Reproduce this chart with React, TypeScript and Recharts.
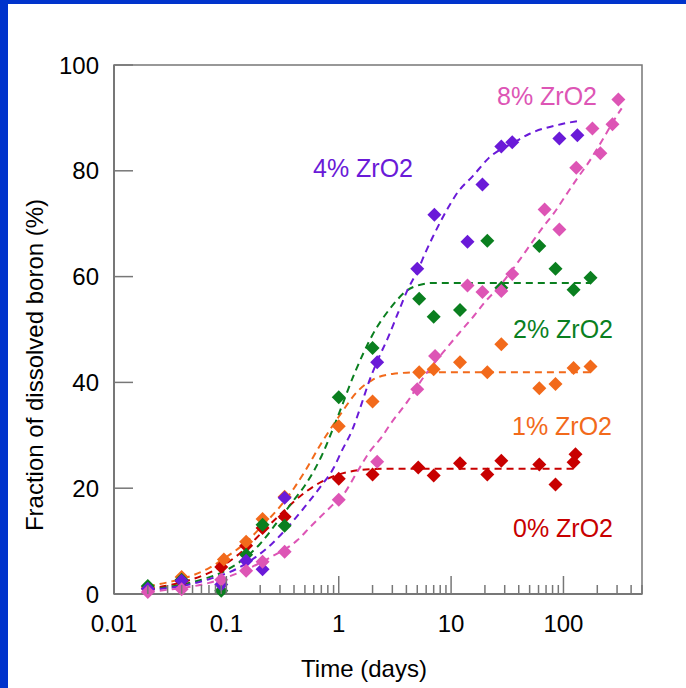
import React from "react";
import { ComposedChart, Line, Scatter, XAxis, YAxis, ReferenceArea } from "recharts";

const FONT = "'Liberation Sans', Arial, sans-serif";
const AXIS = "#777777";

const xTicks = [
  0.01, 0.02, 0.03, 0.04, 0.05, 0.06, 0.07, 0.08, 0.09,
  0.1, 0.2, 0.3, 0.4, 0.5, 0.6, 0.7, 0.8, 0.9,
  1, 2, 3, 4, 5, 6, 7, 8, 9,
  10, 20, 30, 40, 50, 60, 70, 80, 90,
  100, 200, 300, 400, 500,
];
const xLabels = [0.01, 0.1, 1, 10, 100];
const yTicks = [0, 20, 40, 60, 80, 100];

// measured points [time (days), fraction %]
const pts0: [number, number][] = [
  [0.02, 1.0], [0.04, 2.4], [0.09, 5.1], [0.15, 9.1], [0.21, 12.5], [0.33, 14.6],
  [1, 21.8], [2, 22.6], [5.1, 23.9], [7, 22.4], [12, 24.7], [21, 22.6], [28, 25.2],
  [61, 24.5], [85, 20.7], [123, 24.9], [128, 26.4],
];
const pts1: [number, number][] = [
  [0.02, 1.3], [0.04, 3.2], [0.095, 6.5], [0.15, 9.9], [0.21, 14.2], [0.33, 18.4],
  [1, 31.7], [2, 36.4], [5.2, 41.9], [7, 42.5], [12, 43.8], [21, 41.9], [28, 47.2],
  [61, 38.9], [85, 39.7], [123, 42.7], [174, 43.0],
];
const pts2: [number, number][] = [
  [0.02, 1.5], [0.04, 2.7], [0.09, 0.6], [0.15, 7.4], [0.21, 13.1], [0.33, 12.9],
  [1, 37.2], [2, 46.5], [5.2, 55.8], [7, 52.4], [12, 53.7], [21, 66.8], [28, 57.9],
  [61, 65.8], [85, 61.5], [123, 57.5], [174, 59.8],
];
const pts4: [number, number][] = [
  [0.02, 1.0], [0.04, 2.5], [0.09, 1.8], [0.15, 6.3], [0.21, 4.7], [0.33, 18.2],
  [2.2, 43.8], [5, 61.5], [7.1, 71.7], [14, 66.6], [19, 77.4], [28, 84.6], [35, 85.4],
  [92, 86.1], [133, 86.7],
];
const pts8: [number, number][] = [
  [0.02, 0.4], [0.04, 0.9], [0.09, 2.7], [0.15, 4.4], [0.21, 6.1], [0.33, 8.0],
  [1, 17.8], [2.2, 25.0], [5, 38.7], [7.2, 45], [14, 58.3], [19, 57.1], [28, 57.3],
  [35, 60.5], [68, 72.7], [92, 68.9], [130, 80.6], [181, 88.0], [213, 83.3],
  [273, 88.8], [308, 93.5],
];

// fitted curves
const fit0: [number, number][] = [
  [0.02, 1.0], [0.03, 1.6], [0.05, 2.8], [0.07, 4.0], [0.1, 5.8], [0.15, 8.7], [0.2, 11.3],
  [0.3, 15], [0.5, 19.2], [0.7, 21.2], [1, 22.6], [1.5, 23.4], [2, 23.6], [3, 23.7],
  [10, 23.7], [130, 23.7],
];
const fit1: [number, number][] = [
  [0.02, 1.5], [0.03, 2.2], [0.05, 3.5], [0.07, 4.9], [0.1, 7], [0.15, 9.8], [0.2, 12.5],
  [0.3, 16.5], [0.4, 20], [0.5, 23.2], [0.7, 28.5], [1, 33.5], [1.5, 38.5], [2, 40.5],
  [3, 41.6], [5, 41.9], [180, 41.9],
];
const fit2: [number, number][] = [
  [0.02, 0.8], [0.03, 1.3], [0.06, 2.7], [0.1, 4.5], [0.15, 7.0], [0.2, 9.5], [0.3, 14.3],
  [0.4, 17.8], [0.5, 20.5], [0.7, 26], [1, 34], [1.4, 42], [2, 49], [3, 54.5], [4, 57.3],
  [5, 58.3], [7, 58.8], [175, 58.8],
];
const fit4: [number, number][] = [
  [0.02, 0.8], [0.03, 1.1], [0.07, 2.8], [0.13, 5], [0.26, 9.7], [0.4, 14], [0.5, 16.5],
  [0.7, 20.5], [0.9, 23.8], [1.05, 26.8], [1.33, 31.2], [1.6, 36], [1.85, 40], [2.2, 44],
  [2.75, 48.5], [3.35, 53], [4.1, 57.5], [5, 61], [5.9, 64.5], [6.8, 67.3], [8.1, 70.5],
  [9.4, 73], [11.5, 76], [15.6, 79], [21.6, 82.4], [38, 85.6], [50, 87], [95, 88.8],
  [133, 89.4],
];
const fit8: [number, number][] = [
  [0.02, 0.4], [0.03, 0.8], [0.07, 2.1], [0.135, 4.2], [0.25, 7], [0.43, 10.2], [0.56, 12.7],
  [0.85, 16.5], [1.1, 18.8], [1.5, 23.5], [1.9, 27], [2.4, 29.6], [2.9, 32.2], [4.1, 36.4],
  [5.7, 41], [9.3, 46.7], [12, 49.5], [16, 52.6], [20, 55.2], [26, 57.8], [34, 60.9],
  [41.5, 63.4], [53, 66.6], [66, 69.4], [81, 71.8], [103, 75.1], [133, 78.6], [164, 81.3],
  [235, 86.7], [300, 90.5], [330, 91.8],
];

const series = [
  { name: "0% ZrO2", color: "#C80000", pts: pts0, fit: fit0, left: 513, top: 516 },
  { name: "1% ZrO2", color: "#F26A1B", pts: pts1, fit: fit1, left: 512, top: 414 },
  { name: "2% ZrO2", color: "#0A7F1F", pts: pts2, fit: fit2, left: 513, top: 317 },
  { name: "4% ZrO2", color: "#6A1AD8", pts: pts4, fit: fit4, left: 313, top: 156 },
  { name: "8% ZrO2", color: "#DD55B5", pts: pts8, fit: fit8, left: 497, top: 84 },
];

const toRows = (a: [number, number][]) => a.map(([x, y]) => ({ x, y }));

function Diamond(props: any) {
  const { cx, cy, fill } = props;
  const r = 7;
  return (
    <polygon
      points={`${cx},${cy - r} ${cx + r},${cy} ${cx},${cy + r} ${cx - r},${cy}`}
      fill={fill}
    />
  );
}

function XTick({ x, y, payload }: any) {
  const v = payload.value;
  const major = xLabels.some((m) => Math.abs(m - v) < 1e-9);
  return (
    <g>
      <line x1={x} x2={x} y1={y} y2={y - (major ? 18 : 9)} stroke={AXIS} strokeWidth={1.5} />
      {major && (
        <text x={x} y={y + 38} textAnchor="middle" fontSize={24} fontFamily={FONT} fill="#000">
          {String(v)}
        </text>
      )}
    </g>
  );
}

function YTick({ x, y, payload }: any) {
  return (
    <g>
      <line x1={x} x2={x + 19} y1={y} y2={y} stroke={AXIS} strokeWidth={1.5} />
      <text x={x - 15} y={y + 8.6} textAnchor="end" fontSize={24} fontFamily={FONT} fill="#000">
        {payload.value}
      </text>
    </g>
  );
}

export default function App() {
  return (
    <div style={{ position: "absolute", left: 0, top: 0, width: 686, height: 688, background: "#fff", fontFamily: FONT }}>
      <ComposedChart width={686} height={688} margin={{ top: 65, right: 44, bottom: 64, left: 54 }}>
        <XAxis
          dataKey="x"
          type="number"
          scale="log"
          domain={[0.01, 500]}
          allowDataOverflow
          ticks={xTicks}
          interval={0}
          height={30}
          tickSize={0}
          tickMargin={0}
          tick={<XTick />}
          axisLine={{ stroke: AXIS, strokeWidth: 2 }}
          tickLine={false}
        />
        <YAxis
          type="number"
          domain={[0, 100]}
          ticks={yTicks}
          interval={0}
          width={60}
          tickSize={0}
          tickMargin={0}
          tick={<YTick />}
          axisLine={{ stroke: AXIS, strokeWidth: 2 }}
          tickLine={false}
        />
        <ReferenceArea x1={0.01} x2={500} y1={0} y2={100} fill="none" stroke={AXIS} strokeWidth={1.5} ifOverflow="visible" />
        {series.map((s) => (
          <Line
            key={"f" + s.name}
            data={toRows(s.fit)}
            dataKey="y"
            type="monotone"
            stroke={s.color}
            strokeWidth={2}
            strokeDasharray="7 5"
            dot={false}
            activeDot={false}
            isAnimationActive={false}
          />
        ))}
        {series.map((s) => (
          <Scatter
            key={"p" + s.name}
            data={toRows(s.pts)}
            dataKey="y"
            fill={s.color}
            shape={<Diamond />}
            isAnimationActive={false}
          />
        ))}
      </ComposedChart>
      <svg width={686} height={688} style={{ position: "absolute", left: 0, top: 0, pointerEvents: "none" }}>
        <text x={364} y={677} textAnchor="middle" fontSize={24} fontFamily={FONT} fill="#000">
          Time (days)
        </text>
        <text transform="translate(43,365) rotate(-90)" textAnchor="middle" fontSize={24} fontFamily={FONT} fill="#000">
          Fraction of dissolved boron (%)
        </text>
      </svg>
      {series.map((s) => (
        <span
          key={"l" + s.name}
          style={{ position: "absolute", left: s.left, top: s.top, fontSize: 25, lineHeight: "25px", color: s.color, whiteSpace: "nowrap" }}
        >
          {s.name}
        </span>
      ))}
      <div style={{ position: "absolute", left: 0, top: 0, width: 8, height: 688, background: "#0033CC" }} />
      <div style={{ position: "absolute", left: 0, top: 0, width: 686, height: 4, background: "#0033CC" }} />
    </div>
  );
}
